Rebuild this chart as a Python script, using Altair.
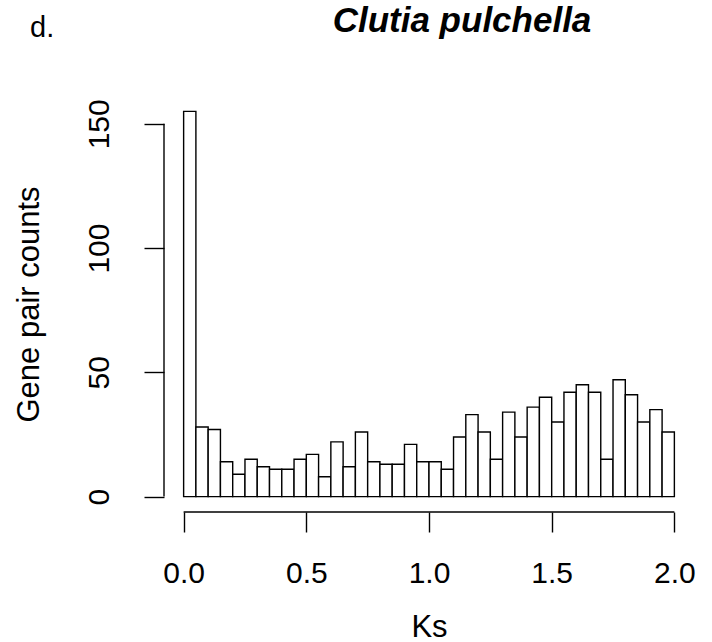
import altair as alt
import pandas as pd

# Histogram of Ks values (bin width 0.05)
bin_start = [0.00, 0.05, 0.10, 0.15, 0.20, 0.25, 0.30, 0.35, 0.40, 0.45,
             0.50, 0.55, 0.60, 0.65, 0.70, 0.75, 0.80, 0.85, 0.90, 0.95,
             1.00, 1.05, 1.10, 1.15, 1.20, 1.25, 1.30, 1.35, 1.40, 1.45,
             1.50, 1.55, 1.60, 1.65, 1.70, 1.75, 1.80, 1.85, 1.90, 1.95]
bin_end = [0.05, 0.10, 0.15, 0.20, 0.25, 0.30, 0.35, 0.40, 0.45, 0.50,
           0.55, 0.60, 0.65, 0.70, 0.75, 0.80, 0.85, 0.90, 0.95, 1.00,
           1.05, 1.10, 1.15, 1.20, 1.25, 1.30, 1.35, 1.40, 1.45, 1.50,
           1.55, 1.60, 1.65, 1.70, 1.75, 1.80, 1.85, 1.90, 1.95, 2.00]
counts = [155, 28, 27, 14, 9, 15, 12, 11, 11, 15,
          17, 8, 22, 12, 26, 14, 13, 13, 21, 14,
          14, 11, 24, 33, 26, 15, 34, 24, 36, 40,
          30, 42, 45, 42, 15, 47, 41, 30, 35, 26]
x_ticks = [0.0, 0.5, 1.0, 1.5, 2.0]
y_ticks = [0, 50, 100, 150]
title_text = "Clutia pulchella"
panel_text = "d."

df = pd.DataFrame({"start": bin_start, "end": bin_end, "count": counts})

W, H = 530, 416
FONT = "Liberation Sans"

xscale = alt.Scale(domain=[-0.08, 2.08], nice=False, zero=False)
yscale = alt.Scale(domain=[-6.2, 161.2], nice=False, zero=False)

x_axis = alt.Axis(values=x_ticks, format=".1f", domain=False, grid=False,
                  tickSize=20, tickWidth=1.4, tickColor="black",
                  labelFontSize=30, labelFont=FONT, labelColor="black",
                  labelPadding=50, labelBaseline="alphabetic", labelAlign="center",
                  labelFlush=False, labelOverlap=False,
                  title="Ks", titleFontSize=31, titleFont=FONT, titleFontWeight="normal",
                  titleColor="black", titleX=W / 2, titleY=124,
                  titleBaseline="alphabetic", titleAlign="center")
y_axis = alt.Axis(values=y_ticks, domain=False, grid=False,
                  tickSize=20, tickWidth=1.4, tickColor="black",
                  labelFontSize=30, labelFont=FONT, labelColor="black",
                  labelAngle=-90, labelAlign="center", labelBaseline="alphabetic",
                  labelPadding=36, labelFlush=False, labelOverlap=False,
                  title="Gene pair counts", titleFontSize=31, titleFont=FONT,
                  titleFontWeight="normal", titleColor="black",
                  titleAngle=-90, titleX=-126, titleY=H / 2,
                  titleBaseline="alphabetic", titleAlign="center")

bars = alt.Chart(df).mark_bar(fill="white", stroke="black", strokeWidth=1.4).encode(
    x=alt.X("start:Q", scale=xscale, axis=x_axis),
    x2="end:Q",
    y=alt.Y("count:Q", scale=yscale, axis=y_axis),
    y2=alt.datum(0),
)

x_line = alt.Chart().mark_rule(color="black", strokeWidth=1.4).encode(
    x=alt.datum(x_ticks[0], scale=xscale),
    x2=alt.datum(x_ticks[-1]),
    y=alt.value(H),
)
y_line = alt.Chart().mark_rule(color="black", strokeWidth=1.4).encode(
    y=alt.datum(y_ticks[0], scale=yscale),
    y2=alt.datum(y_ticks[-1]),
    x=alt.value(0),
)

label = alt.Chart(pd.DataFrame({"t": [panel_text]})).mark_text(
    align="left", baseline="alphabetic", fontSize=29, font=FONT, color="black"
).encode(text="t:N", x=alt.value(-134), y=alt.value(-59))

title = alt.Chart(pd.DataFrame({"t": [title_text]})).mark_text(
    align="center", baseline="alphabetic", fontSize=35, font=FONT,
    fontStyle="italic", fontWeight="bold", color="black"
).encode(text="t:N", x=alt.value(298), y=alt.value(-64))

chart = alt.layer(bars, x_line, y_line, label, title).properties(
    width=W, height=H,
    background="white",
    autosize=alt.AutoSizeParams(type="none"),
    padding={"left": 164, "top": 96, "right": 18, "bottom": 130},
).configure_view(stroke="transparent", strokeWidth=0)

chart.save("out.html", embed_options={"renderer": "svg", "actions": False})
